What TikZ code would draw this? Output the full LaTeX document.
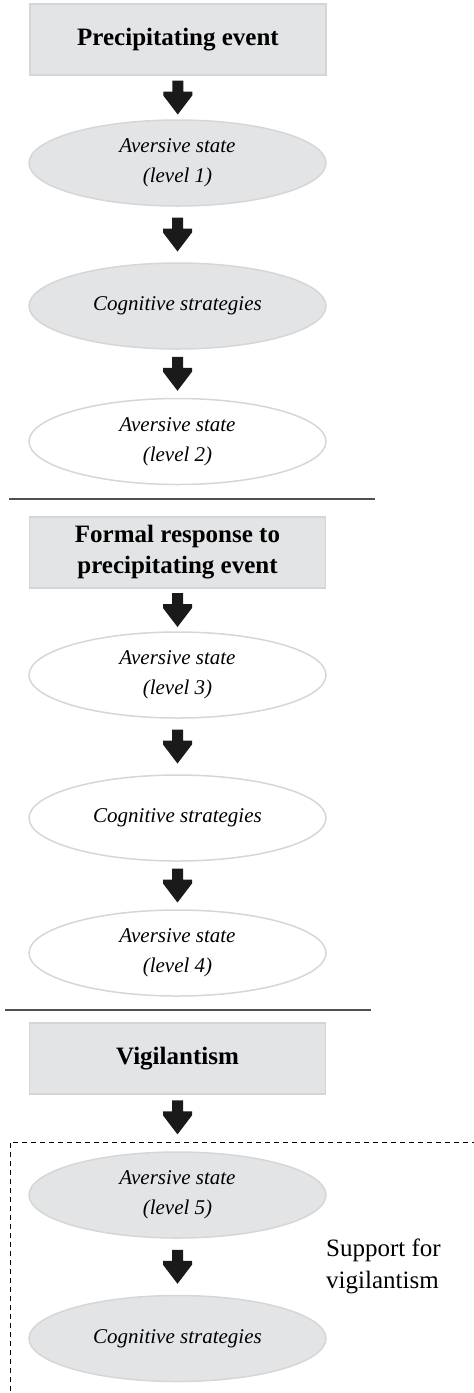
\documentclass[tikz,border=0pt]{standalone}
\usepackage{fontspec}
\setmainfont{Liberation Serif}
\usetikzlibrary{calc,shapes.geometric}
\definecolor{boxfill}{RGB}{227,228,230}
\definecolor{boxline}{RGB}{212,213,215}
\definecolor{ellline}{RGB}{214,214,214}
\definecolor{arrowcol}{RGB}{26,26,26}
\definecolor{rulecol}{RGB}{80,80,80}
\tikzset{
  eventbox/.style={rectangle, fill=boxfill, draw=boxline, line width=1.5pt,
    minimum width=296pt, minimum height=71pt, inner sep=0pt, align=center,
    font=\fontsize{25}{31}\selectfont\bfseries},
  grayell/.style={ellipse, fill=boxfill, draw=ellline, line width=1.5pt,
    minimum width=297pt, minimum height=86pt, inner sep=0pt, align=center,
    font=\fontsize{21}{30}\selectfont\itshape},
  whiteell/.style={grayell, fill=white},
  sectionrule/.style={draw=rulecol, line width=1.3pt},
  dashedframe/.style={draw=black, line width=0.8pt, dash pattern=on 5pt off 4pt},
  sidelabel/.style={anchor=west, align=left, inner sep=0pt,
    font=\fontsize{25}{32}\selectfont}
}
\newcommand{\flowarrow}[2]{%
  \coordinate (m) at ($(#1.south)!0.5!(#2.north)$);
  \fill[arrowcol] ($(m)+(-5.5,17)$) -- ($(m)+(5.5,17)$) -- ($(m)+(5.5,6)$)
    -- ($(m)+(14.5,6)$) -- ($(m)+(14.5,2)$) -- ($(m)+(0,-17)$)
    -- ($(m)+(-14.5,2)$) -- ($(m)+(-14.5,6)$) -- ($(m)+(-5.5,6)$) -- cycle;
}
\begin{document}
\begin{tikzpicture}[x=1pt,y=1pt]
\useasboundingbox (0,0) rectangle (474,-1393);
\clip (0,0) rectangle (474,-1393);
% section 1
\node[eventbox] (pe) at (178,-39.5) {Precipitating event};
\node[grayell] (a1) at (177.5,-163) {Aversive state\\(level 1)};
\node[grayell] (c1) at (177.5,-306) {Cognitive strategies};
\node[whiteell] (a2) at (177.5,-441.5) {Aversive state\\(level 2)};
\flowarrow{pe}{a1}
\flowarrow{a1}{c1}
\flowarrow{c1}{a2}
\coordinate (r1l) at (9,-499);
\coordinate (r1r) at (375,-499);
\draw[sectionrule] (r1l) -- (r1r);
% section 2
\node[eventbox] (fr) at (177.5,-552.5) {Formal response to\\precipitating event};
\node[whiteell] (a3) at (177.5,-675) {Aversive state\\(level 3)};
\node[whiteell] (c2) at (177.5,-818) {Cognitive strategies};
\node[whiteell] (a4) at (177.5,-953) {Aversive state\\(level 4)};
\flowarrow{fr}{a3}
\flowarrow{a3}{c2}
\flowarrow{c2}{a4}
\coordinate (r2l) at (5,-1010);
\coordinate (r2r) at (371,-1010);
\draw[sectionrule] (r2l) -- (r2r);
% section 3
\node[eventbox] (vg) at (177.5,-1058.5) {Vigilantism};
\coordinate (fbot) at (10,-1400);
\coordinate (ftl) at (10,-1142);
\coordinate (fright) at (480,-1142);
\draw[dashedframe] (fbot) -- (ftl) -- (fright);
\node[grayell] (a5) at (177.5,-1195) {Aversive state\\(level 5)};
\node[grayell] (c3) at (177.5,-1338.5) {Cognitive strategies};
\node[sidelabel] (sv) at (326,-1266) {Support for\\vigilantism};
\coordinate (ftop) at (177.5,-1140);
\flowarrow{vg}{ftop}
\flowarrow{a5}{c3}
\end{tikzpicture}
\end{document}
